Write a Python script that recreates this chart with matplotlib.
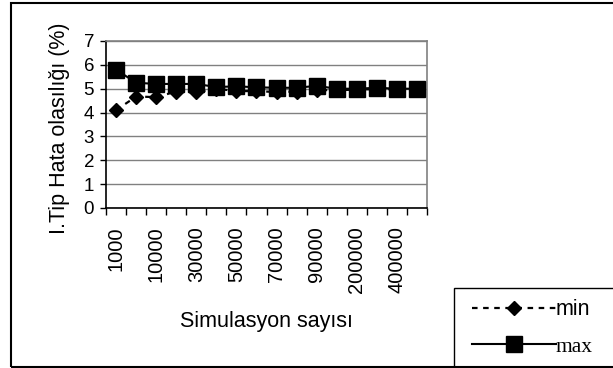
import matplotlib
matplotlib.use("Agg")
import matplotlib.pyplot as plt
from matplotlib.patches import Rectangle
from matplotlib.ticker import FixedLocator, NullFormatter

categories = ["1000", "5000", "10000", "20000", "30000", "40000", "50000", "60000",
              "70000", "80000", "90000", "100000", "200000", "300000", "400000", "500000"]
min_vals = [4.1, 4.67, 4.65, 4.88, 4.85, 5.0, 4.9, 4.9,
            4.86, 4.88, 4.95, 4.93, 4.97, 4.98, 4.98, 4.99]
max_vals = [5.8, 5.25, 5.2, 5.2, 5.2, 5.07, 5.1, 5.06,
            5.04, 5.04, 5.12, 5.0, 5.0, 5.04, 5.0, 5.0]

plt.rcParams['font.family'] = ['Liberation Sans', 'DejaVu Sans']

W, H = 613, 368
fig = plt.figure(figsize=(W/100, H/100), dpi=100)
ax = fig.add_axes([106/W, 1-208/H, (427-106)/W, (208-41)/H])

x = list(range(len(categories)))
l1, = ax.plot(x, min_vals, color='black', linestyle=(0, (2.5, 2.5)), linewidth=1.6,
              marker='D', markersize=7.5, label='min', zorder=3)
l2, = ax.plot(x, max_vals, color='black', linestyle='-', linewidth=1.5,
              marker='s', markersize=11, label='max', zorder=4)

ax.set_xlim(-0.5, len(categories) - 0.5)
ax.set_ylim(0, 7)
ax.set_yticks(range(0, 8))
ax.tick_params(axis='y', direction='out', length=4.5, width=1, labelsize=13.5, pad=4)
ax.yaxis.grid(True, color='#808080', linewidth=1)
ax.set_axisbelow(True)

ax.set_xticks(x[::2])
ax.set_xticklabels(categories[::2], rotation=90, fontsize=14.5)
ax.tick_params(axis='x', which='major', length=0, pad=13)
ax.xaxis.set_minor_locator(FixedLocator([i - 0.5 for i in range(len(categories) + 1)]))
ax.xaxis.set_minor_formatter(NullFormatter())
ax.tick_params(axis='x', which='minor', direction='out', length=5, width=1)

for s in ['left', 'bottom']:
    ax.spines[s].set_color('black')
    ax.spines[s].set_linewidth(1.2)
for s in ['top', 'right']:
    ax.spines[s].set_color('#808080')
    ax.spines[s].set_linewidth(1.2)

fig.text(59/W, 1-128/H, "I.Tip Hata olasılığı (%)", fontsize=15.5, rotation=90,
         ha='center', va='center')
fig.text(266/W, 1-322/H, "Simulasyon sayısı", fontsize=15.5, ha='center', va='center')

# outer border
fig.patches.append(Rectangle((11/W, 1/H), 1.0, 1-4/H, transform=fig.transFigure,
                             fill=False, edgecolor='black', linewidth=1.5))
# legend box
fig.patches.append(Rectangle((454/W, 1/H), 1.0, (367-288)/H, transform=fig.transFigure,
                             fill=False, edgecolor='black', linewidth=1.0))

leg = fig.legend(handles=[l1, l2], loc='center left',
                 bbox_to_anchor=(472/W, 1-328/H),
                 frameon=False, fontsize=15.5, handlelength=3.9, handletextpad=0.0,
                 borderpad=0, labelspacing=0.75, borderaxespad=0, markerscale=1.0)
texts = leg.get_texts()
texts[1].set_family('Liberation Serif')

fig.savefig("out.png", dpi=100)
